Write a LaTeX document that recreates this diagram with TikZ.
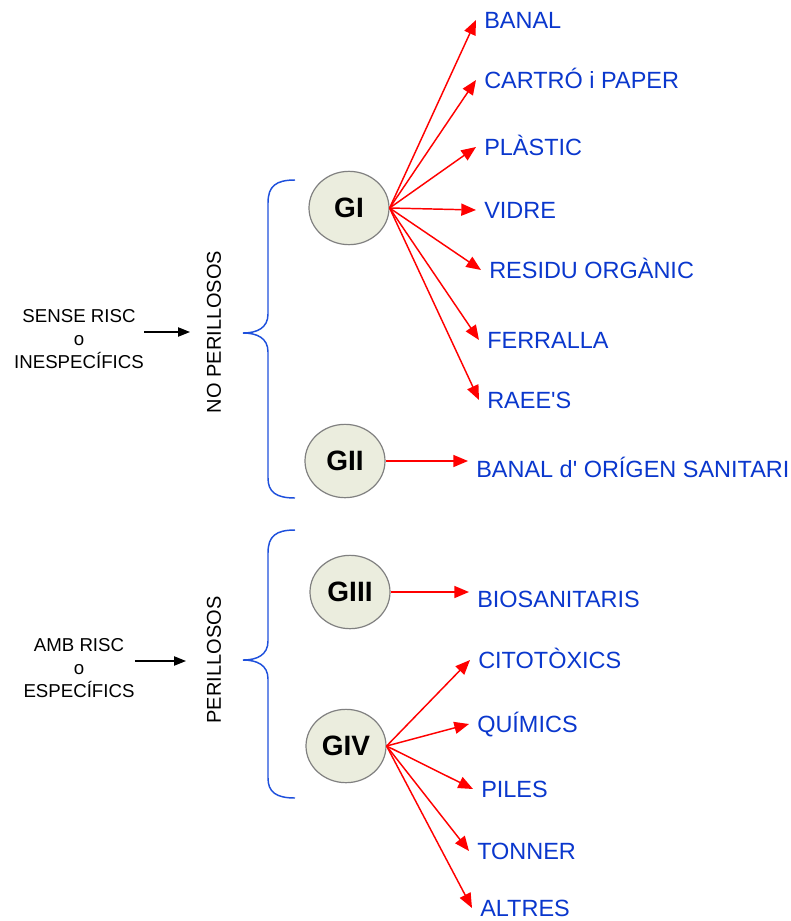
\documentclass[tikz,border=0pt]{standalone}
\usepackage{fontspec}
\setmainfont{Liberation Sans}
\usetikzlibrary{shapes.geometric,arrows.meta}

\definecolor{itemblue}{RGB}{10,55,205}
\definecolor{bracecol}{RGB}{30,80,220}
\definecolor{grpfill}{RGB}{235,237,222}

\begin{document}
\begin{tikzpicture}[x=0.75pt,y=-0.75pt,
    grp/.style={ellipse,draw=gray,fill=grpfill,line width=0.9pt,
      minimum width=60pt,minimum height=55pt,inner sep=0pt,
      font=\fontsize{21}{21}\selectfont\bfseries},
    item/.style={anchor=west,text=itemblue,inner sep=0pt,inner xsep=6pt,
      text height=12.4pt,text depth=0pt,font=\fontsize{17.6}{17.6}\selectfont},
    fan/.style={red,line width=1.1pt,-{Triangle[length=11pt,width=9pt]}},
    side/.style={align=center,inner sep=0pt,font=\fontsize{14}{17}\selectfont},
    kind/.style={rotate=90,inner sep=0pt,font=\fontsize{15}{15}\selectfont},
    into/.style={black,line width=0.9pt,-{Triangle[length=9pt,width=7pt]}},
    brace/.style={bracecol,line width=1.1pt}]

  \useasboundingbox (0,0) rectangle (791,921);

  % left side
  \node[side] (sense) at (79,339) {SENSE RISC\\o\\INESPECÍFICS};
  \node[side] (amb) at (79,668) {AMB RISC\\o\\ESPECÍFICS};
  \coordinate (inA) at (190,332);
  \coordinate (inB) at (186,661);
  \draw[into] (sense.east |- inA) -- (inA);
  \draw[into] (amb.east |- inB) -- (inB);

  \node[kind] (noper) at (214,332) {NO PERILLOSOS};
  \node[kind] (per) at (214,660) {PERILLOSOS};

  % braces
  \draw[brace] (295,180) .. controls (276,180) and (268,186) .. (268,203)
    -- (268,314) .. controls (268,328) and (257,333) .. (243,333)
    .. controls (257,333) and (268,338) .. (268,352)
    -- (268,478) .. controls (268,492) and (276,498) .. (295,498);
  \draw[brace] (295,530) .. controls (276,530) and (268,536) .. (268,553)
    -- (268,641) .. controls (268,655) and (257,660) .. (243,660)
    .. controls (257,660) and (268,665) .. (268,679)
    -- (268,778) .. controls (268,792) and (276,798) .. (295,798);

  % groups
  \node[grp] (gI) at (349,208) {GI};
  \node[grp] (gII) at (345,461) {GII};
  \node[grp] (gIII) at (350,592) {GIII};
  \node[grp] (gIV) at (346,746) {GIV};

  % GI
  \node[item] (banal) at (476,20) {BANAL};
  \node[item] (paper) at (476,80) {CARTRÓ i PAPER};
  \node[item] (plastic) at (476,147) {PLÀSTIC};
  \node[item] (vidre) at (476,210) {VIDRE};
  \node[item] (organic) at (481,270) {RESIDU ORGÀNIC};
  \node[item] (ferralla) at (479,340) {FERRALLA};
  \node[item] (raee) at (479,400) {RAEE\textquotesingle S};
  \foreach \t in {banal,paper,plastic,vidre,organic,ferralla,raee}
    \draw[fan] (gI.east) -- (\t.west);

  % GII
  \node[item] (sanitari) at (468,469) {BANAL d\textquotesingle{} ORÍGEN SANITARI};
  \draw[fan] (gII.east) -- (gII.east -| sanitari.west);

  % GIII
  \node[item] (bio) at (469,599) {BIOSANITARIS};
  \draw[fan] (gIII.east) -- (gIII.east -| bio.west);

  % GIV
  \node[item] (cito) at (470,660) {CITOTÒXICS};
  \node[item] (quimics) at (469,724) {QUÍMICS};
  \node[item] (piles) at (473,789) {PILES};
  \node[item] (tonner) at (469,851) {TONNER};
  \node[item] (altres) at (472,908) {ALTRES};
  \foreach \t in {cito,quimics,piles,tonner,altres}
    \draw[fan] (gIV.east) -- (\t.west);

\end{tikzpicture}
\end{document}
